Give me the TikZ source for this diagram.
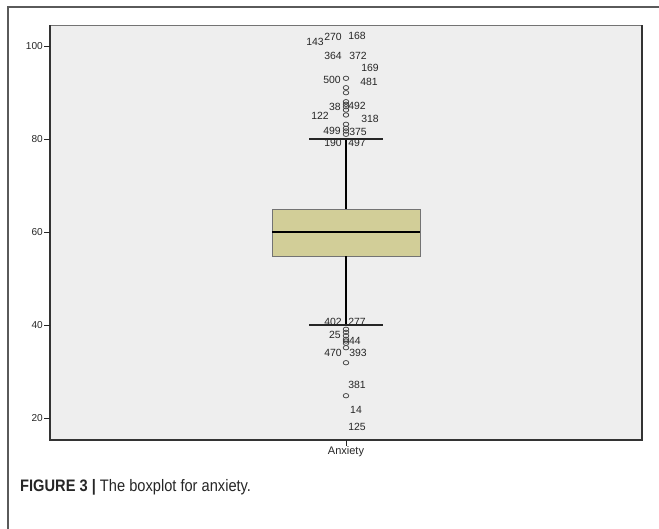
\documentclass[tikz,border=0pt]{standalone}
\usepackage{fontspec}
\setmainfont{Liberation Sans}
\usetikzlibrary{shapes.geometric}
\definecolor{plotbg}{HTML}{EEEEEE}
\definecolor{boxfill}{HTML}{D2CE98}
\definecolor{framegray}{HTML}{5A5A5A}
\begin{document}
\begin{tikzpicture}[x=0.03cm,y=-0.03cm,
  lbl/.style={font=\fontsize{8.9}{9}\selectfont, inner sep=0pt, text=black!85},
  ticklbl/.style={font=\fontsize{8.6}{9}\selectfont, inner sep=0pt, anchor=east, text=black!85},
  circ/.style={draw=black!75, line width=0.65pt, ellipse, inner sep=0pt, minimum width=5.6*0.03cm, minimum height=4.4*0.03cm},
  whisk/.style={draw=black, line width=1.4pt},
  capst/.style={draw=black!85, line width=1.1pt},
  tickst/.style={draw=black!85, line width=0.7pt},
]
\useasboundingbox (0,0) rectangle (659,529);
% outer frame (top and left only)
\draw[framegray, line width=0.9pt] (8,529) -- (8,7) -- (659,7);
% plot area
\fill[plotbg] (50,25) rectangle (642,440);
\draw[black!55, line width=0.6pt] (50,25) rectangle (642,440);
\draw[black!80, line width=0.9pt] (50,25) -- (50,440) -- (642,440) -- (642,25);
% y ticks
\foreach \v/\yy in {100/46,80/139,60/232,40/325,20/418}{
  \draw[tickst] (44,\yy) -- (50,\yy);
  \node[ticklbl] (t\v) at (43,\yy) {\v};
}
% x tick
\draw[tickst] (346,440) -- (346,446);
\node[font=\fontsize{9.4}{10}\selectfont, inner sep=0pt, text=black!85] (xl) at (346,452) {Anxiety};
% box
\node[draw=black!55, line width=0.8pt, fill=boxfill, minimum width=148*0.03cm, minimum height=47*0.03cm, inner sep=0pt] (box) at (346,232.5) {};
\coordinate (uw) at (346,139);
\coordinate (lw) at (346,325);
\coordinate (ucl) at (309,139);
\coordinate (ucr) at (383,139);
\coordinate (lcl) at (309,325);
\coordinate (lcr) at (383,325);
\coordinate (ml) at (272,232);
\coordinate (mr) at (420,232);
\draw[whisk] (box.north) -- (uw);
\draw[whisk] (box.south) -- (lw);
\draw[capst] (ucl) -- (ucr);
\draw[capst] (lcl) -- (lcr);
\draw[black, line width=1.6pt] (ml) -- (mr);
% outlier circles
\foreach \yy [count=\i] in {78.3,87.7,92.7,101.7,104.3,106.7,110,115,124.3,128.3,131,134.3,329.3,332.3,335.7,339.3,341,343.3,347.7,362.7,395.7}{
  \node[circ] (c\i) at (346,\yy) {};
}
% outlier labels
\foreach \t/\xx/\yy in {143/315/42,270/333/37,168/357/36,364/333/56,372/358/56,169/370/68,500/332/80,481/369/82,38/335/107,492/357/106,122/320/116,318/370/119,499/332/131,375/358/132,190/333/143,497/357/143,402/333/322,277/357/322,25/335/335,44/355/341,470/333/353,393/358/353,381/357/385,14/356/410,125/357/427}{
  \node[lbl] (l\t) at (\xx,\yy) {\t};
}
% caption
\node[anchor=west, inner sep=0pt, text=black!85] (capt) at (20,487) {\scalebox{0.88}[1]{\fontsize{14.2}{16}\selectfont\textbf{FIGURE 3} \textbf{|} The boxplot for anxiety.}};
\end{tikzpicture}
\end{document}
